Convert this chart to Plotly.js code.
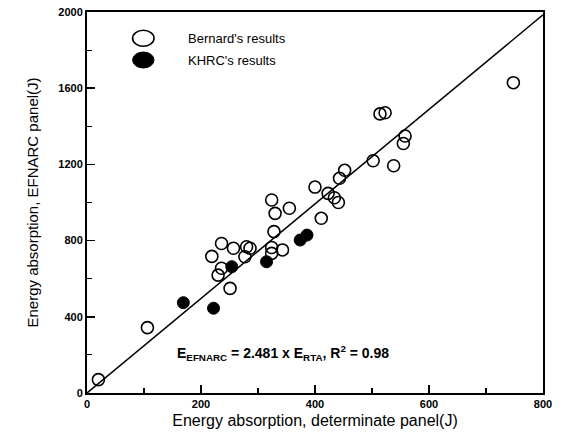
<!DOCTYPE html>
<html><head><meta charset="utf-8">
<script src="https://cdn.plot.ly/plotly-3.0.1.min.js"></script>
<style>html,body{margin:0;padding:0;background:#fff;}#chart{width:565px;height:443px;}</style>
</head><body><div id="chart"></div>
<script>
// Bernard's results
const bernardX = [20, 106, 251, 230, 236, 219, 236, 257, 280, 286, 277, 324, 324, 343, 328, 330, 324, 355, 411, 400, 423, 434, 441, 443, 452, 502, 538, 555, 558, 514, 523, 748];
const bernardY = [70, 343, 549, 619, 655, 717, 785, 760, 768, 760, 715, 764, 733, 751, 847, 943, 1013, 970, 917, 1081, 1048, 1025, 1000, 1127, 1169, 1219, 1193, 1310, 1349, 1465, 1471, 1629];
// KHRC's results
const khrcX = [169, 222, 254, 315, 374, 386];
const khrcY = [474, 445, 663, 689, 803, 829];
// Regression line E_EFNARC = 2.481 x E_RTA
const fitX = [0, 800];
const fitY = [0, 1985];
const xTicks = [0, 200, 400, 600, 800];
const yTicks = [0, 400, 800, 1200, 1600, 2000];

const font = 'Liberation Sans, Arial, sans-serif';
const traces = [
  {x: fitX, y: fitY, mode: 'lines', line: {color: '#000', width: 1.5}, showlegend: false, hoverinfo: 'skip'},
  {x: bernardX, y: bernardY, mode: 'markers', name: "Bernard's results",
   marker: {symbol: 'circle-open', size: 12, color: '#000', line: {width: 1.6, color: '#000'}}, showlegend: false},
  {x: khrcX, y: khrcY, mode: 'markers', name: "KHRC's results",
   marker: {symbol: 'circle', size: 12, color: '#000', line: {width: 1, color: '#000'}}, showlegend: false}
];

const axisCommon = {
  showgrid: false, zeroline: false, showline: true, linecolor: '#000', linewidth: 2, mirror: true,
  ticks: 'inside', ticklen: 8, tickwidth: 1.5, tickcolor: '#000',
  tickfont: {family: font, size: 11, color: '#000', weight: 'bold'}
};

const layout = {
  width: 565, height: 443,
  margin: {l: 87, r: 22, t: 12, b: 50},
  paper_bgcolor: '#fff', plot_bgcolor: '#fff',
  showlegend: false,
  xaxis: Object.assign({}, axisCommon, {
    range: [0, 800], tickvals: xTicks, ticktext: xTicks.map(String),
    minor: {dtick: 100, ticks: 'inside', ticklen: 5, tickwidth: 1.2, tickcolor: '#000'},
    title: {text: 'Energy absorption, determinate panel(J)', font: {family: font, size: 16, color: '#000'}, standoff: 6}
  }),
  yaxis: Object.assign({}, axisCommon, {
    range: [0, 2000], tickvals: yTicks, ticktext: yTicks.map(String),
    minor: {dtick: 200, ticks: 'inside', ticklen: 5, tickwidth: 1.2, tickcolor: '#000'},
    title: {text: 'Energy absorption, EFNARC panel(J)', font: {family: font, size: 15, color: '#000'}, standoff: 16}
  }),
  shapes: [
    {type: 'circle', xref: 'paper', yref: 'paper', x0: 0.1, x1: 0.147, y0: 0.91, y1: 0.952, line: {color: '#000', width: 1.6}, fillcolor: 'rgba(0,0,0,0)'},
    {type: 'circle', xref: 'paper', yref: 'paper', x0: 0.1, x1: 0.147, y0: 0.853, y1: 0.895, line: {color: '#000', width: 1}, fillcolor: '#000'}
  ],
  annotations: [
    {xref: 'paper', yref: 'paper', x: 0.218, y: 0.931, xanchor: 'left', yanchor: 'middle', showarrow: false,
     text: "Bernard's results", font: {family: font, size: 13, color: '#000'}},
    {xref: 'paper', yref: 'paper', x: 0.218, y: 0.874, xanchor: 'left', yanchor: 'middle', showarrow: false,
     text: "KHRC's results", font: {family: font, size: 13, color: '#000'}},
    {xref: 'paper', yref: 'paper', x: 0.43, y: 0.105, xanchor: 'center', yanchor: 'middle', showarrow: false,
     text: '<b>E<sub>EFNARC</sub> = 2.481 x E<sub>RTA</sub>, R<sup>2</sup> = 0.98</b>', font: {family: font, size: 14, color: '#000'}}
  ]
};

Plotly.newPlot('chart', traces, layout, {staticPlot: true, displayModeBar: false});
</script>
</body></html>
